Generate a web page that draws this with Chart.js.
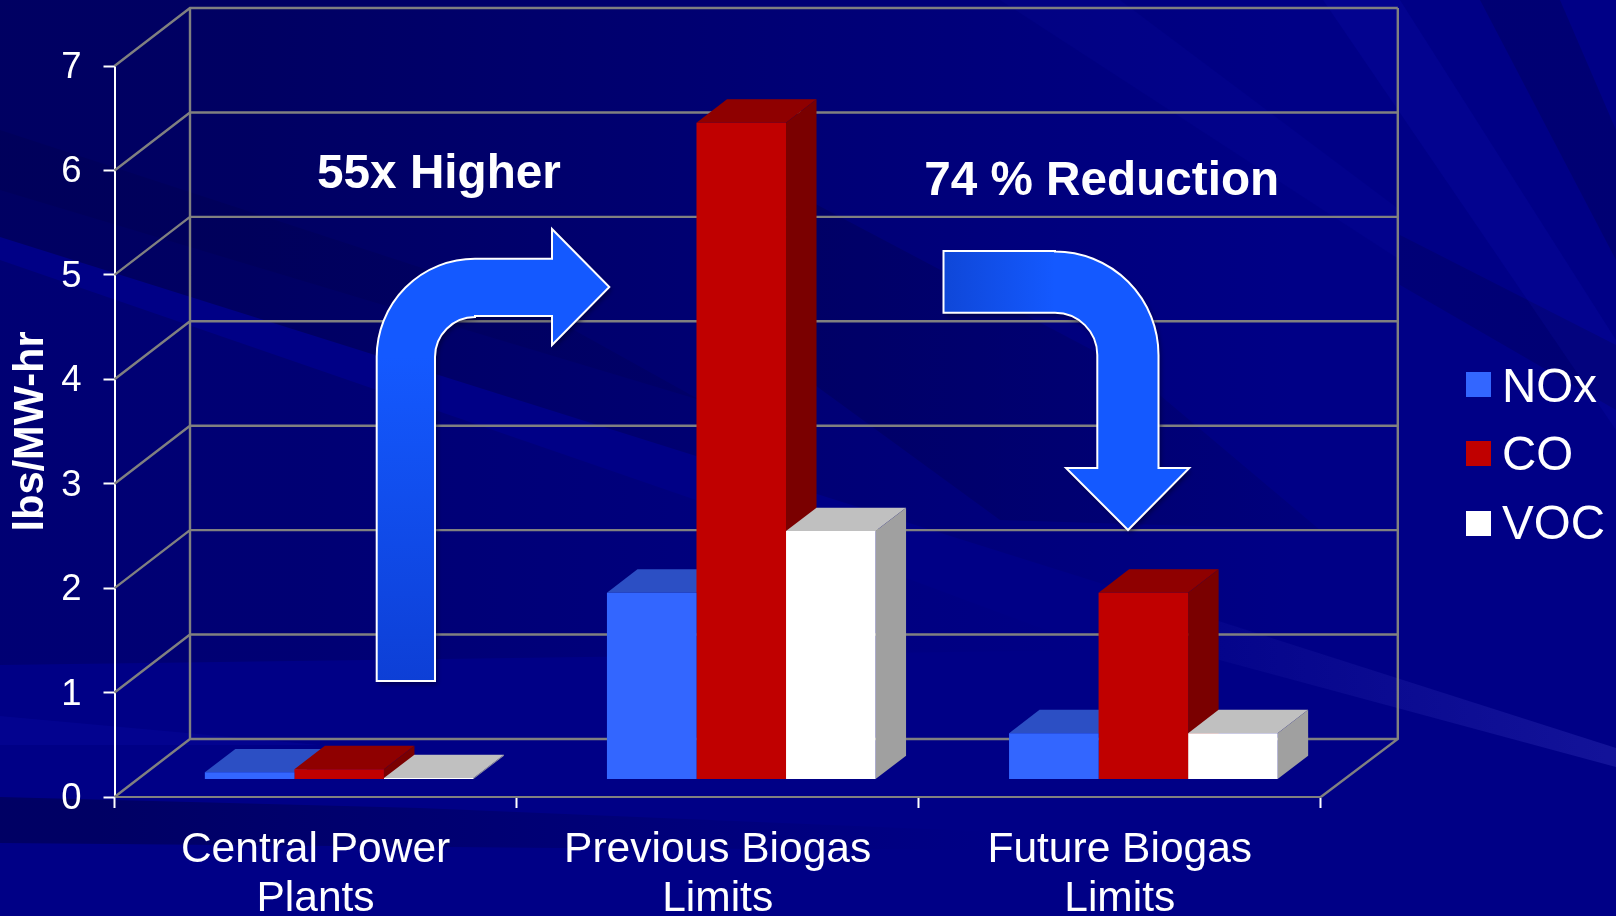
<!DOCTYPE html>
<html>
<head>
<meta charset="utf-8">
<title>Emissions</title>
<script src="https://cdn.jsdelivr.net/npm/chart.js@4"></script>
<style>
    html, body { margin: 0; padding: 0; background: #000080; overflow: hidden; }
    canvas { display: block; }
</style>
</head>
<body>
<canvas id="emissionsChart" width="1616" height="916"></canvas>
<script>
const categories = [
    ['Central Power', 'Plants'],
    ['Previous Biogas', 'Limits'],
    ['Future Biogas', 'Limits']
];
const noxValues = [0.07, 1.79, 0.445];
const coValues = [0.10, 6.29, 1.79];
const vocValues = [0.015, 2.38, 0.445];
const yTicks = [0, 1, 2, 3, 4, 5, 6, 7];

const FONT = '"Liberation Sans", Arial, sans-serif';
const WALL = '#808080';

// 3D box look: the back wall sits up and to the right of the axes
const wallDx = 75.5, wallDy = 58;
const barShiftX = 23.6, barShiftY = 17.4;
const barDepthX = 30.5, barDepthY = 23.4;

const faceColors = [
    { top: '#2c4fc4', side: '#1f3a9c' },
    { top: '#8f0000', side: '#7a0000' },
    { top: '#c0c0c0', side: '#a0a0a0' }
];

// streaks in the slide background, [x, alpha] stops fade them sideways
const streaks = [
    { pts: [[0,0],[1300,0],[1300,646],[0,237]], from: 250, to: 1300, alpha: [0.38, 0] },
    { pts: [[0,260],[696,500],[1100,650],[0,665]], from: 300, to: 1100, alpha: [0.2, 0] },
    { pts: [[808,200],[1130,370],[1320,530],[1000,520],[808,380]], from: 808, to: 1320, alpha: [0.2, 0.1] },
    { pts: [[0,130],[520,300],[700,400],[0,190]], from: 0, to: 700, alpha: [0.12, 0.12] },
    { pts: [[1480,0],[1560,0],[1616,130],[1616,260]], from: 1480, to: 1616, alpha: [0.2, 0.2] },
    { pts: [[1400,235],[1616,345],[1616,410],[1400,285]], from: 1400, to: 1616, alpha: [0.16, 0.2] },
    { pts: [[0,797],[420,808],[1000,832],[1000,850],[560,848],[0,843]], from: 100, to: 1000, alpha: [0.36, 0] }
];
const lightStreaks = [
    { pts: [[1323,0],[1400,0],[1616,340],[1616,430]], color: 'rgba(40,40,255,0.08)' },
    { pts: [[1000,0],[1120,0],[1400,210],[1400,260]], color: 'rgba(40,40,255,0.05)' },
    { pts: [[0,716],[0,745],[320,745]], color: 'rgba(40,40,255,0.08)' }
];

function pathFrom(ctx, pts){
    ctx.beginPath();
    ctx.moveTo(pts[0][0], pts[0][1]);
    for(var i = 1; i < pts.length; i++){
        ctx.lineTo(pts[i][0], pts[i][1]);
    }
    ctx.closePath();
}

const backgroundPlugin = {
    id: 'slideBackground',
    beforeDraw(chart){
        const ctx = chart.ctx;
        ctx.save();
        ctx.fillStyle = '#000086';
        ctx.fillRect(0, 0, chart.width, chart.height);
        for(const s of streaks){
            var fade = ctx.createLinearGradient(s.from, 0, s.to, 0);
            fade.addColorStop(0, 'rgba(0,0,40,' + s.alpha[0] + ')');
            fade.addColorStop(1, 'rgba(0,0,40,' + s.alpha[1] + ')');
            pathFrom(ctx, s.pts);
            ctx.fillStyle = fade;
            ctx.fill();
        }
        for(const s of lightStreaks){
            pathFrom(ctx, s.pts);
            ctx.fillStyle = s.color;
            ctx.fill();
        }
        // pale streak running out to the right edge
        var pale = ctx.createLinearGradient(1218, 0, 1616, 0);
        pale.addColorStop(0, 'rgba(120,120,255,0.04)');
        pale.addColorStop(1, 'rgba(120,120,255,0.16)');
        pathFrom(ctx, [[1190,612],[1616,748],[1616,767],[1190,652]]);
        ctx.fillStyle = pale;
        ctx.fill();
        ctx.restore();
    }
};

const box3dPlugin = {
    id: 'box3d',
    beforeDatasetsDraw(chart){
        const ctx = chart.ctx;
        const yScale = chart.scales.y;
        const xScale = chart.scales.x;
        const left = xScale.left, right = xScale.right;
        const y0 = yScale.getPixelForValue(0);
        const y7 = yScale.getPixelForValue(7);

        ctx.save();
        ctx.strokeStyle = WALL;
        ctx.lineWidth = 2.4;
        ctx.beginPath();
        for(const v of yTicks){
            const py = yScale.getPixelForValue(v);
            ctx.moveTo(left, py);
            ctx.lineTo(left + wallDx, py - wallDy);
            ctx.lineTo(right + wallDx + 1.5, py - wallDy);
        }
        ctx.moveTo(left + wallDx, y7 - wallDy);
        ctx.lineTo(left + wallDx, y0 - wallDy);
        ctx.moveTo(right + wallDx + 1.5, y7 - wallDy);
        ctx.lineTo(right + wallDx + 1.5, y0 - wallDy);
        ctx.lineTo(right, y0);
        ctx.stroke();
        ctx.restore();

        // bars stand a little way in from the front edge of the floor
        ctx.save();
        ctx.translate(barShiftX, -barShiftY);

        // top and side faces first, the library paints the front faces over them
        chart.data.datasets.forEach(function(ds, d){
            const meta = chart.getDatasetMeta(d);
            meta.data.forEach(function(bar){
                const x1 = bar.x - bar.width / 2;
                const x2 = bar.x + bar.width / 2;
                pathFrom(ctx, [[x1, bar.y], [x1 + barDepthX, bar.y - barDepthY], [x2 + barDepthX, bar.y - barDepthY], [x2, bar.y]]);
                ctx.fillStyle = faceColors[d].top;
                ctx.fill();
                pathFrom(ctx, [[x2, bar.y], [x2 + barDepthX, bar.y - barDepthY], [x2 + barDepthX, bar.base - barDepthY], [x2, bar.base]]);
                ctx.fillStyle = faceColors[d].side;
                ctx.fill();
            });
        });
    },
    afterDatasetsDraw(chart){
        chart.ctx.restore();
    }
};

function drawArrow(ctx, traceOutline, gradient){
    ctx.save();
    ctx.shadowColor = 'rgba(0,0,40,0.6)';
    ctx.shadowBlur = 5;
    ctx.shadowOffsetX = 2;
    ctx.shadowOffsetY = 3;
    ctx.beginPath();
    traceOutline();
    ctx.closePath();
    ctx.fillStyle = gradient;
    ctx.fill();
    ctx.shadowColor = 'transparent';
    ctx.strokeStyle = '#ffffff';
    ctx.lineWidth = 2;
    ctx.lineJoin = 'miter';
    ctx.stroke();
    ctx.restore();
}

const annotationPlugin = {
    id: 'annotations',
    afterDraw(chart){
        const ctx = chart.ctx;

        // arrow going up and over to the previous limits
        var upGrad = ctx.createLinearGradient(0, 681, 0, 357);
        upGrad.addColorStop(0, '#0d3fd6');
        upGrad.addColorStop(1, '#1459ff');
        drawArrow(ctx, function(){
            ctx.moveTo(376.7, 681);
            ctx.lineTo(376.7, 357);
            ctx.arc(475, 357, 98.3, Math.PI, 1.5 * Math.PI);
            ctx.lineTo(552, 258.7);
            ctx.lineTo(552, 229);
            ctx.lineTo(609.3, 287);
            ctx.lineTo(552, 345);
            ctx.lineTo(552, 316);
            ctx.lineTo(475, 316);
            ctx.arc(475, 357, 40, 1.5 * Math.PI, Math.PI, true);
            ctx.lineTo(435, 681);
        }, upGrad);

        // arrow coming over and down to the future limits
        var downGrad = ctx.createLinearGradient(944, 0, 1055, 0);
        downGrad.addColorStop(0, '#0f47d8');
        downGrad.addColorStop(1, '#1459ff');
        drawArrow(ctx, function(){
            ctx.moveTo(943.5, 251);
            ctx.lineTo(1055, 251);
            ctx.arc(1055, 355, 103.5, 1.5 * Math.PI, 2 * Math.PI);
            ctx.lineTo(1158.5, 468);
            ctx.lineTo(1189.3, 468);
            ctx.lineTo(1128, 530);
            ctx.lineTo(1066, 468);
            ctx.lineTo(1097.3, 468);
            ctx.lineTo(1097.3, 355);
            ctx.arc(1055, 355, 42.3, 2 * Math.PI, 1.5 * Math.PI, true);
            ctx.lineTo(943.5, 312.7);
        }, downGrad);

        ctx.save();
        ctx.fillStyle = '#ffffff';
        ctx.textAlign = 'center';
        ctx.textBaseline = 'alphabetic';
        ctx.font = 'bold 47.7px ' + FONT;
        ctx.fillText('55x Higher', 439, 188);
        ctx.fillText('74 % Reduction', 1101.7, 195);

        // legend column to the right of the box
        const legendY = [372, 441, 511];
        const legendBase = [402, 470, 539];
        ctx.textAlign = 'left';
        ctx.font = '47.5px ' + FONT;
        chart.data.datasets.forEach(function(ds, d){
            ctx.fillStyle = ds.backgroundColor;
            ctx.fillRect(1466, legendY[d], 25, 25);
            ctx.fillStyle = '#ffffff';
            ctx.fillText(ds.label, 1502, legendBase[d]);
        });
        ctx.restore();
    }
};

new Chart(document.getElementById('emissionsChart'), {
    type: 'bar',
    data: {
        labels: categories,
        datasets: [
            { label: 'NOx', data: noxValues, backgroundColor: '#3366ff' },
            { label: 'CO', data: coValues, backgroundColor: '#c00000' },
            { label: 'VOC', data: vocValues, backgroundColor: '#ffffff' }
        ]
    },
    options: {
        responsive: false,
        animation: false,
        events: [],
        layout: { padding: { top: 66, right: 295.2, bottom: 0, left: 0 } },
        datasets: { bar: { barPercentage: 1, categoryPercentage: 0.668, borderWidth: 0 } },
        plugins: {
            legend: { display: false },
            tooltip: { enabled: false }
        },
        scales: {
            x: {
                afterFit: function(scale){ scale.height = 119; },
                border: { color: WALL, width: 2 },
                grid: { drawOnChartArea: false, tickColor: '#ffffff', tickLength: 11, tickWidth: 2 },
                ticks: {
                    color: '#ffffff',
                    font: { family: FONT, size: 42.5, lineHeight: 1.14 },
                    padding: 18.5,
                    maxRotation: 0,
                    autoSkip: false
                }
            },
            y: {
                min: 0,
                max: 7,
                afterFit: function(scale){ scale.width = 114.5; },
                border: { color: '#ffffff', width: 2 },
                grid: { drawOnChartArea: false, tickColor: '#ffffff', tickLength: 11, tickWidth: 2 },
                title: {
                    display: true,
                    text: 'lbs/MW-hr',
                    color: '#ffffff',
                    font: { family: FONT, size: 41.6, weight: 'bold' },
                    padding: { top: 7, bottom: 0 }
                },
                ticks: {
                    color: '#ffffff',
                    stepSize: 1,
                    font: { family: FONT, size: 36.5 },
                    padding: 22,
                    labelOffset: 2
                }
            }
        }
    },
    plugins: [backgroundPlugin, box3dPlugin, annotationPlugin]
});
</script>
</body>
</html>
